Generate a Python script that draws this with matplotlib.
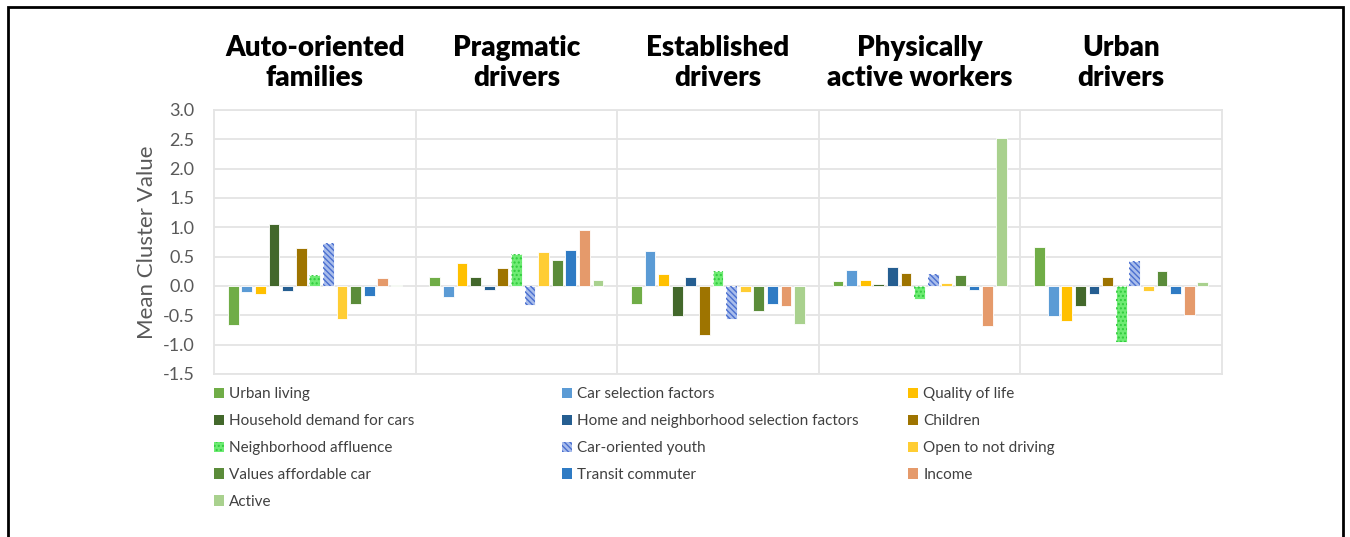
import numpy as np
import matplotlib
matplotlib.use('Agg')
import matplotlib.pyplot as plt
from matplotlib.patches import Patch, Rectangle

# Chart data
clusters = ['Auto-oriented\nfamilies', 'Pragmatic\ndrivers', 'Established\ndrivers',
            'Physically\nactive workers', 'Urban\ndrivers']

factors = ['Urban living', 'Car selection factors', 'Quality of life',
           'Household demand for cars', 'Home and neighborhood selection factors', 'Children',
           'Neighborhood affluence', 'Car-oriented youth', 'Open to not driving',
           'Values affordable car', 'Transit commuter', 'Income', 'Active']

auto_oriented_families = [-0.67, -0.11, -0.14, 1.05, -0.08, 0.64, 0.18, 0.74, -0.57, -0.31, -0.17, 0.13, 0.02]
pragmatic_drivers = [0.15, -0.19, 0.40, 0.16, -0.07, 0.31, 0.54, -0.32, 0.58, 0.44, 0.61, 0.95, 0.11]
established_drivers = [-0.31, 0.59, 0.20, -0.51, 0.15, -0.84, 0.26, -0.57, -0.10, -0.43, -0.30, -0.34, -0.65]
physically_active_workers = [0.09, 0.28, 0.11, 0.04, 0.32, 0.22, -0.22, 0.20, 0.05, 0.18, -0.06, -0.69, 2.52]
urban_drivers = [0.66, -0.51, -0.59, -0.34, -0.14, 0.15, -0.95, 0.43, -0.09, 0.25, -0.14, -0.49, 0.06]

cluster_values = np.array([auto_oriented_families, pragmatic_drivers, established_drivers,
                           physically_active_workers, urban_drivers])

y_ticks = [3.0, 2.5, 2.0, 1.5, 1.0, 0.5, 0.0, -0.5, -1.0, -1.5]

# Styles
colors = ['#70AD47', '#5B9BD5', '#FFC000', '#43682B', '#255E91', '#9E7400',
          '#6EEB73', '#A9BDEB', '#FFCD33', '#5B8C3A', '#2F7BC4', '#E59A6B', '#A9D18E']
hatches = {6: ('....', '#2FCB3C'), 7: ('\\\\\\\\\\\\', '#4A6FD0')}

text_grey = '#595959'
font_list = ['Lato', 'DejaVu Sans']

fig = plt.figure(figsize=(13.5, 5.37), dpi=100)
ax = fig.add_axes([214 / 1350, 1 - 374 / 537, (1222 - 214) / 1350, 264 / 537])

n = len(factors)
step = 0.0675
width = 0.054
offsets = (np.arange(n) - (n - 1) / 2) * step
x = np.arange(len(clusters))

for j in range(n):
    ax.bar(x + offsets[j], cluster_values[:, j], width=width, color=colors[j],
           edgecolor='white', linewidth=0.6, zorder=3)
    if j in hatches:
        h, hc = hatches[j]
        ax.bar(x + offsets[j], cluster_values[:, j], width=width, facecolor='none',
               edgecolor=hc, hatch=h, linewidth=0, zorder=4)

ax.set_xlim(-0.5, len(clusters) - 0.5)
ax.set_ylim(-1.5, 3.0)
ax.set_yticks(y_ticks)
ax.set_yticklabels([f'{t:.1f}' for t in y_ticks])
ax.set_xticks([])

# Grid lines and cluster separators
ax.yaxis.grid(True, color='#E4E4E4', linewidth=1.3, zorder=0)
for b in np.arange(0.5, len(clusters) - 0.5, 1.0):
    ax.axvline(b, color='#E4E4E4', linewidth=1.3, zorder=0)
for s in ax.spines.values():
    s.set_color('#E4E4E4')
    s.set_linewidth(1.3)

ax.tick_params(axis='y', length=0, pad=14, labelsize=13, labelcolor=text_grey)
for lbl in ax.get_yticklabels():
    lbl.set_family(font_list)

ax.set_ylabel('Mean Cluster Value', fontsize=16, color=text_grey, labelpad=4,
              family=font_list)

# Cluster titles
for i, name in enumerate(clusters):
    ax.text(i, 1.072, name, transform=ax.get_xaxis_transform(), ha='center', va='bottom',
            fontsize=20, fontweight='heavy', color='black', family=font_list,
            linespacing=1.2)

# Legend: three columns, filled row by row
handles = []
for j in range(n):
    if j in hatches:
        h, hc = hatches[j]
        handles.append(Patch(facecolor=colors[j], edgecolor=hc, hatch=h, linewidth=0))
    else:
        handles.append(Patch(facecolor=colors[j], linewidth=0))

col_x = [214, 562, 908]
for c in range(3):
    idx = list(range(c, n, 3))
    leg = fig.legend([handles[k] for k in idx], [factors[k] for k in idx],
                     loc='upper left', bbox_to_anchor=(col_x[c] / 1350, 1 - 387 / 537),
                     frameon=False, handlelength=0.65, handleheight=0.65,
                     handletextpad=0.35, labelspacing=0.85, borderaxespad=0, borderpad=0,
                     prop={'family': font_list, 'size': 11})
    for t in leg.get_texts():
        t.set_color('#404040')

# Outer frame
fig.patches.append(Rectangle((8 / 1350, -0.05), 1335 / 1350, 1.05 - 7 / 537,
                             transform=fig.transFigure, fill=False, edgecolor='black',
                             linewidth=2, clip_on=False))

fig.savefig('out.png', dpi=100, facecolor='white')
